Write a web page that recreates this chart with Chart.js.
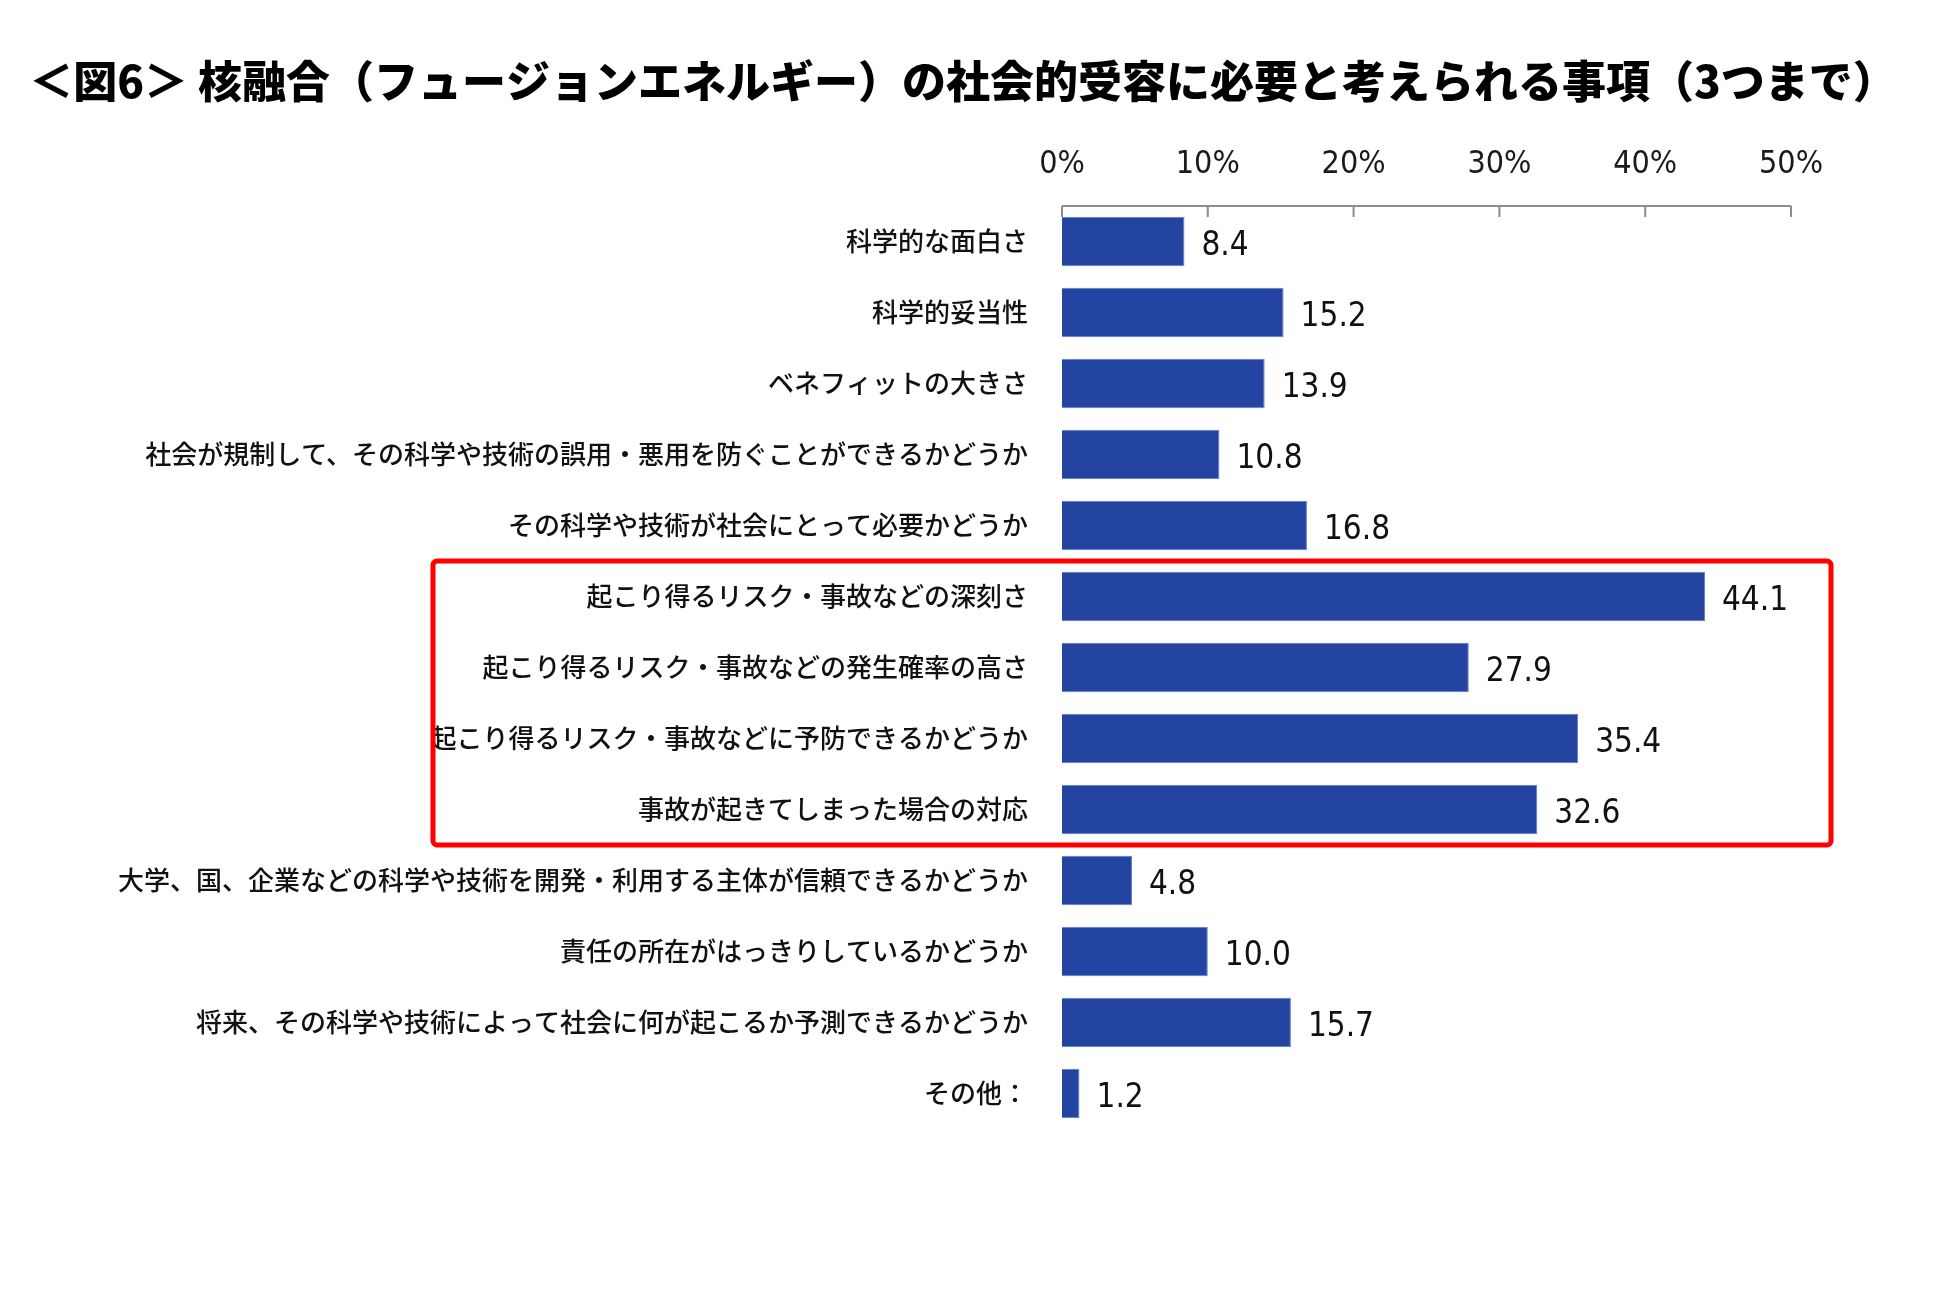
<!DOCTYPE html>
<html lang="ja">
<head>
    <meta charset="UTF-8">
    <title>核融合の社会的受容に必要と考えられる事項</title>
    <script src="https://cdn.jsdelivr.net/npm/chart.js"></script>
    <style>
        body {
            margin: 0;
            padding: 0;
            background-color: #ffffff;
        }
        #grafica {
            display: block;
        }
    </style>
</head>
<body>
    <canvas id="grafica" width="1950" height="1304"></canvas>
    <script>
        // datos
        const titulo = '＜図6＞ 核融合（フュージョンエネルギー）の社会的受容に必要と考えられる事項（3つまで）';
        const categorias = [
            '科学的な面白さ',
            '科学的妥当性',
            'ベネフィットの大きさ',
            '社会が規制して、その科学や技術の誤用・悪用を防ぐことができるかどうか',
            'その科学や技術が社会にとって必要かどうか',
            '起こり得るリスク・事故などの深刻さ',
            '起こり得るリスク・事故などの発生確率の高さ',
            '起こり得るリスク・事故などに予防できるかどうか',
            '事故が起きてしまった場合の対応',
            '大学、国、企業などの科学や技術を開発・利用する主体が信頼できるかどうか',
            '責任の所在がはっきりしているかどうか',
            '将来、その科学や技術によって社会に何が起こるか予測できるかどうか',
            'その他：'
        ];
        const valores = [8.4, 15.2, 13.9, 10.8, 16.8, 44.1, 27.9, 35.4, 32.6, 4.8, 10.0, 15.7, 1.2];
        const ticksX = [0, 10, 20, 30, 40, 50];
        const resaltados = [5, 8]; // primera y última fila del recuadro rojo

        const fuenteNum = "'DejaVu Sans Condensed', 'DejaVu Sans', sans-serif";
        const fuenteJp = "'Noto Sans CJK JP', sans-serif";

        // título (se dibuja aparte para que no lo comprima el plugin de Chart.js)
        const cabecera = {
            id: 'cabecera',
            afterDraw(chart) {
                const ctx = chart.ctx;
                ctx.save();
                ctx.font = '900 44px ' + fuenteJp;
                ctx.fillStyle = '#000000';
                ctx.textAlign = 'center';
                ctx.textBaseline = 'middle';
                ctx.fillText(titulo, 963, 81);
                ctx.restore();
            }
        };

        // eje superior: línea gris y marcas hacia abajo
        const ejeSuperior = {
            id: 'ejeSuperior',
            afterDatasetsDraw(chart) {
                const ctx = chart.ctx;
                const x = chart.scales.x;
                const top = chart.chartArea.top;
                ctx.save();
                ctx.strokeStyle = '#8c8c8c';
                ctx.lineWidth = 2;
                ctx.beginPath();
                ctx.moveTo(x.getPixelForValue(ticksX[0]), top);
                ctx.lineTo(x.getPixelForValue(ticksX[ticksX.length - 1]), top);
                ticksX.forEach(t => {
                    const px = x.getPixelForValue(t);
                    ctx.moveTo(px, top);
                    ctx.lineTo(px, top + 11);
                });
                ctx.stroke();
                ctx.restore();
            }
        };

        // valores a la derecha de cada barra
        const etiquetas = {
            id: 'etiquetas',
            afterDatasetsDraw(chart) {
                const ctx = chart.ctx;
                const meta = chart.getDatasetMeta(0);
                ctx.save();
                ctx.font = '33px ' + fuenteNum;
                ctx.fillStyle = '#111111';
                ctx.textAlign = 'left';
                ctx.textBaseline = 'middle';
                meta.data.forEach((bar, i) => {
                    ctx.fillText(valores[i].toFixed(1), bar.x + 17, bar.y + 5);
                });
                ctx.restore();
            }
        };

        // recuadro rojo
        const recuadro = {
            id: 'recuadro',
            afterDraw(chart) {
                const ctx = chart.ctx;
                const y = chart.scales.y;
                const medio = (y.getPixelForValue(1) - y.getPixelForValue(0)) / 2;
                const y1 = y.getPixelForValue(resaltados[0]) - medio;
                const y2 = y.getPixelForValue(resaltados[1]) + medio;
                ctx.save();
                ctx.strokeStyle = '#ff0000';
                ctx.lineWidth = 5;
                ctx.beginPath();
                ctx.roundRect(433, y1, 1831 - 433, y2 - y1, 4);
                ctx.stroke();
                ctx.restore();
            }
        };

        const ctx = document.getElementById('grafica').getContext('2d');
        window.miGrafico = new Chart(ctx, {
            type: 'bar',
            data: {
                labels: categorias,
                datasets: [{
                    data: valores,
                    backgroundColor: '#2344a0',
                    borderColor: '#5f7fcf',
                    borderWidth: 1,
                    barPercentage: 0.7,
                    categoryPercentage: 1.0
                }]
            },
            options: {
                indexAxis: 'y',
                responsive: false,
                animation: false,
                layout: {
                    padding: { top: 0, right: 159, bottom: 175, left: 0 }
                },
                plugins: {
                    legend: { display: false },
                    tooltip: { enabled: false },
                    title: { display: false }
                },
                scales: {
                    x: {
                        position: 'top',
                        min: 0,
                        max: 50,
                        afterBuildTicks: (s) => { s.ticks = ticksX.map(v => ({ value: v })); },
                        afterFit: (s) => { s.height = 206; },
                        grid: { display: false },
                        border: { display: false },
                        ticks: {
                            color: '#1a1a1a',
                            font: { family: fuenteNum, size: 32 },
                            padding: 14,
                            callback: (v) => v + '%'
                        }
                    },
                    y: {
                        afterFit: (s) => { s.width = 1062; },
                        grid: { display: false },
                        border: { display: false },
                        ticks: {
                            color: '#111111',
                            font: { family: fuenteJp, size: 26, weight: '500' },
                            padding: 26,
                            autoSkip: false
                        }
                    }
                }
            },
            plugins: [ejeSuperior, etiquetas, recuadro, cabecera]
        });
    </script>
</body>
</html>
